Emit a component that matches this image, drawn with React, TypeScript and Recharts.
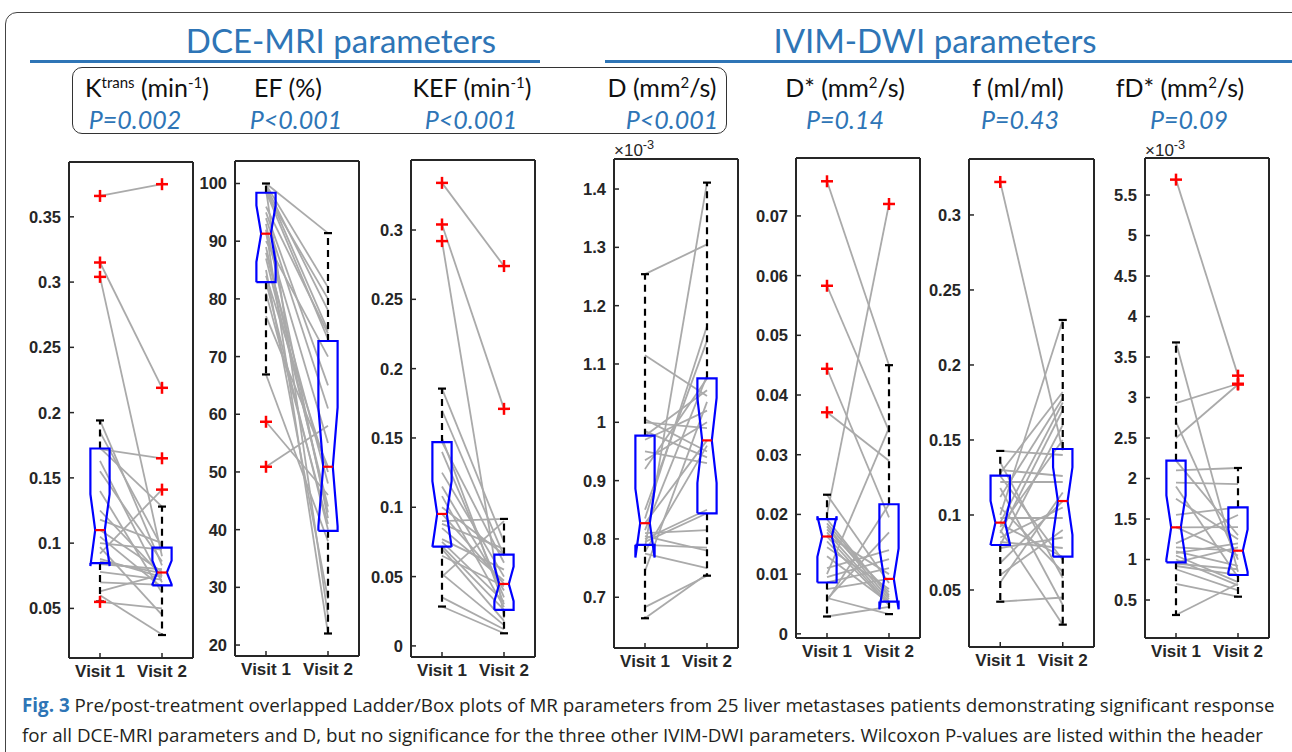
import React from 'react';
import { ComposedChart, Line, Scatter, XAxis, YAxis } from 'recharts';

// paired patient values: index i is the same patient at visit 1 and visit 2
const KTRANS_V1 = [0.366, 0.315, 0.304, 0.172, 0.092, 0.194, 0.185, 0.173, 0.163, 0.155, 0.14, 0.125, 0.118, 0.11, 0.105, 0.1, 0.097, 0.088, 0.086, 0.084, 0.078, 0.07, 0.063, 0.06, 0.055];
const KTRANS_V2 = [0.375, 0.219, 0.09, 0.165, 0.141, 0.083, 0.097, 0.128, 0.07, 0.086, 0.062, 0.075, 0.1, 0.078, 0.066, 0.095, 0.045, 0.074, 0.077, 0.08, 0.072, 0.068, 0.076, 0.03, 0.05];
const EF_V1 = [50.9, 58.7, 66.9, 100, 99.8, 99.5, 99.2, 99, 98.6, 98.4, 96, 95, 94, 93, 92, 91.3, 90, 89, 88, 87, 85, 84, 83, 81, 77];
const EF_V2 = [58, 46, 38, 91.4, 82, 78, 74.5, 25, 73, 80, 74, 65, 61, 42, 22, 55, 70, 43, 48, 44, 28, 50, 40, 41, 50.9];
const KEF_V1 = [0.334, 0.304, 0.292, 0.1856, 0.17, 0.15, 0.147, 0.14, 0.125, 0.115, 0.108, 0.1, 0.0952, 0.09, 0.088, 0.085, 0.077, 0.075, 0.072, 0.07, 0.065, 0.052, 0.05, 0.035, 0.0284];
const KEF_V2 = [0.274, 0.171, 0.02, 0.075, 0.065, 0.03, 0.06, 0.035, 0.05, 0.04, 0.028, 0.066, 0.0447, 0.0916, 0.07, 0.047, 0.055, 0.032, 0.026, 0.018, 0.043, 0.015, 0.09, 0.012, 0.0091];
// D and fD* are in units of 1e-3
const D_V1 = [1.254, 1.115, 1.005, 1.0, 0.985, 0.977, 0.97, 0.95, 0.935, 0.92, 0.85, 0.835, 0.827, 0.815, 0.81, 0.805, 0.8, 0.795, 0.79, 0.785, 0.778, 0.775, 0.745, 0.683, 0.664];
const D_V2 = [1.305, 1.045, 0.95, 0.99, 0.94, 1.055, 1.02, 0.93, 1.0, 1.075, 1.14, 1.165, 0.969, 1.08, 0.815, 0.78, 0.85, 0.844, 0.785, 1.411, 0.96, 0.75, 1.035, 0.737, 0.74];
const DSTAR_V1 = [0.0758, 0.0583, 0.0444, 0.0371, 0.02, 0.0233, 0.0192, 0.0185, 0.018, 0.0175, 0.017, 0.0165, 0.0163, 0.0155, 0.0145, 0.013, 0.011, 0.01, 0.0095, 0.0086, 0.0075, 0.006, 0.0058, 0.0055, 0.0029];
const DSTAR_V2 = [0.045, 0.034, 0.0195, 0.029, 0.072, 0.0085, 0.0062, 0.0065, 0.0058, 0.007, 0.0054, 0.01, 0.005, 0.0048, 0.0075, 0.0052, 0.014, 0.0345, 0.0125, 0.011, 0.0092, 0.0033, 0.017, 0.0217, 0.0045];
const F_V1 = [0.322, 0.1427, 0.135, 0.13, 0.128, 0.126, 0.122, 0.118, 0.112, 0.105, 0.1, 0.098, 0.0949, 0.094, 0.092, 0.09, 0.088, 0.085, 0.082, 0.08, 0.078, 0.068, 0.06, 0.055, 0.0422];
const F_V2 = [0.143, 0.14, 0.058, 0.126, 0.182, 0.07, 0.122, 0.04, 0.178, 0.062, 0.23, 0.098, 0.175, 0.072, 0.15, 0.0269, 0.17, 0.105, 0.078, 0.16, 0.085, 0.1093, 0.09, 0.115, 0.045];
const FDSTAR_V1 = [5.69, 3.68, 2.93, 2.7, 2.5, 2.22, 2.1, 1.95, 1.9, 1.75, 1.55, 1.4, 1.397, 1.2, 1.15, 1.1, 1.08, 1.05, 1.0, 0.965, 0.95, 0.92, 0.88, 0.7, 0.315];
const FDSTAR_V2 = [3.27, 0.85, 3.17, 1.0, 3.16, 1.3, 2.13, 1.93, 0.78, 1.25, 1.644, 1.05, 1.4, 1.55, 1.109, 0.92, 1.2, 0.72, 0.68, 1.15, 0.88, 0.809, 0.62, 0.541, 0.7];

// box stats per visit: [whisker low, q1, notch low, median, notch high, q3, whisker high]
const KTRANS_BOX = [[0.0553, 0.0847, 0.0824, 0.11, 0.1376, 0.1725, 0.194], [0.0296, 0.0676, 0.0684, 0.0775, 0.0866, 0.0965, 0.128]];
const EF_BOX = [[66.9, 82.9, 86.4, 91.3, 96.2, 98.4, 100], [22.0, 39.8, 40.6, 50.9, 61.2, 72.7, 91.4]];
const KEF_BOX = [[0.0284, 0.0716, 0.0715, 0.0952, 0.1189, 0.147, 0.1856], [0.0091, 0.026, 0.0322, 0.0447, 0.0572, 0.0659, 0.0916]];
const D_BOX = [[0.664, 0.79, 0.768, 0.827, 0.886, 0.977, 1.254], [0.737, 0.844, 0.896, 0.969, 1.042, 1.0754, 1.411]];
const DSTAR_BOX = [[0.0029, 0.0086, 0.0129, 0.0163, 0.0197, 0.0192, 0.0233], [0.0033, 0.0054, 0.0041, 0.0092, 0.0143, 0.0217, 0.045]];
const F_BOX = [[0.0422, 0.08, 0.0804, 0.0949, 0.1094, 0.1262, 0.1427], [0.0269, 0.0722, 0.0868, 0.1093, 0.1318, 0.144, 0.23]];
const FDSTAR_BOX = [[0.315, 0.965, 1.003, 1.397, 1.79, 2.22, 3.68], [0.541, 0.809, 0.847, 1.109, 1.371, 1.644, 2.13]];

const KTRANS_TICKS = [0.05, 0.1, 0.15, 0.2, 0.25, 0.3, 0.35];
const EF_TICKS = [20, 30, 40, 50, 60, 70, 80, 90, 100];
const KEF_TICKS = [0, 0.05, 0.1, 0.15, 0.2, 0.25, 0.3];
const D_TICKS = [0.7, 0.8, 0.9, 1, 1.1, 1.2, 1.3, 1.4];
const DSTAR_TICKS = [0, 0.01, 0.02, 0.03, 0.04, 0.05, 0.06, 0.07];
const F_TICKS = [0.05, 0.1, 0.15, 0.2, 0.25, 0.3];
const FDSTAR_TICKS = [0.5, 1, 1.5, 2, 2.5, 3, 3.5, 4, 4.5, 5, 5.5];

const VISITS = ['Visit 1', 'Visit 2'];

const BLUE_TXT = '#2e75b6';
const AXIS = '#262626';
const BOX_HALF = 0.155;
const CAP_HALF = 0.065;
const ARIAL = '"Liberation Sans", Arial, sans-serif';

// frame = plot box [left, top, right, bottom] on the page
const PANELS = [
  { v1: KTRANS_V1, v2: KTRANS_V2, box: KTRANS_BOX, ticks: KTRANS_TICKS, domain: [0.012, 0.392], frame: [69, 162, 193, 658] },
  { v1: EF_V1, v2: EF_V2, box: EF_BOX, ticks: EF_TICKS, domain: [18.1, 103.9], frame: [235, 161, 359, 656] },
  { v1: KEF_V1, v2: KEF_V2, box: KEF_BOX, ticks: KEF_TICKS, domain: [-0.008, 0.3505], frame: [411, 160, 535, 657] },
  { v1: D_V1, v2: D_V2, box: D_BOX, ticks: D_TICKS, domain: [0.613, 1.4515], frame: [614, 159, 738, 648] },
  { v1: DSTAR_V1, v2: DSTAR_V2, box: DSTAR_BOX, ticks: DSTAR_TICKS, domain: [-0.0007, 0.0797], frame: [796, 158, 920, 638] },
  { v1: F_V1, v2: F_V2, box: F_BOX, ticks: F_TICKS, domain: [0.012, 0.3373], frame: [969, 159, 1094, 647] },
  { v1: FDSTAR_V1, v2: FDSTAR_V2, box: FDSTAR_BOX, ticks: FDSTAR_TICKS, domain: [0.031, 5.957], frame: [1145, 158, 1269, 638] },
];

const WL = 60;
const MT = 10;
const MR = 6;
const HB = 34;

const YTick = (props: any) => (
  <text x={props.x} y={props.y} dy="0.36em" textAnchor="end" fill={AXIS} fontSize={16.5} fontWeight={700} fontFamily={ARIAL}>
    {String(props.payload.value)}
  </text>
);

const XTick = (props: any) => (
  <text x={props.x} y={props.y} dy="0.8em" textAnchor="middle" fill={AXIS} fontSize={17} fontWeight={700} fontFamily={ARIAL}>
    {VISITS[props.payload.value - 1]}
  </text>
);

const Plus = (p: any) => (
  <g>
    <line x1={p.cx - 6} y1={p.cy} x2={p.cx + 6} y2={p.cy} stroke="#ff0000" strokeWidth={2.5} />
    <line x1={p.cx} y1={p.cy - 6} x2={p.cx} y2={p.cy + 6} stroke="#ff0000" strokeWidth={2.5} />
  </g>
);

// notched outline like matlab boxplot
function boxOutline(x: number, s: number[]) {
  const [, q1, nLo, med, nHi, q3] = s;
  const w = BOX_HALF;
  const k = w * 0.5;
  return [
    { x: x - w, y: q1 }, { x: x - w, y: nLo }, { x: x - k, y: med }, { x: x - w, y: nHi }, { x: x - w, y: q3 },
    { x: x + w, y: q3 }, { x: x + w, y: nHi }, { x: x + k, y: med }, { x: x + w, y: nLo }, { x: x + w, y: q1 },
    { x: x - w, y: q1 },
  ];
}

function Panel({ p }: { p: any }) {
  const [l, t, r, b] = p.frame;
  const W = r - l + WL + 1 + MR;
  const H = b - t + 1 + MT + HB;

  const outliers: { x: number; y: number }[] = [];
  [p.v1, p.v2].forEach((vals: number[], vi: number) => {
    const s = p.box[vi];
    vals.forEach((v) => {
      if (v > s[6] + 1e-9 || v < s[0] - 1e-9) outliers.push({ x: vi + 1, y: v });
    });
  });

  return (
    <div style={{ position: 'absolute', left: l - WL, top: t - MT - 1 }}>
      <ComposedChart width={W} height={H} margin={{ top: MT, right: MR, bottom: 0, left: 0 }}>
        <XAxis
          type="number"
          dataKey="x"
          domain={[0.5, 2.5]}
          ticks={[1, 2]}
          allowDataOverflow
          height={HB}
          tickSize={-5}
          tickMargin={10}
          stroke={AXIS}
          axisLine={{ strokeWidth: 2 }}
          tickLine={{ strokeWidth: 1.5 }}
          tick={<XTick />}
        />
        <XAxis
          xAxisId="top"
          orientation="top"
          type="number"
          dataKey="x"
          domain={[0.5, 2.5]}
          ticks={[1, 2]}
          allowDataOverflow
          height={1}
          tickSize={-5}
          stroke={AXIS}
          axisLine={{ strokeWidth: 2 }}
          tickLine={{ strokeWidth: 1.5 }}
          tick={false}
        />
        <YAxis
          type="number"
          domain={p.domain}
          ticks={p.ticks}
          allowDataOverflow
          width={WL}
          tickSize={-5}
          tickMargin={13}
          stroke={AXIS}
          axisLine={{ strokeWidth: 2 }}
          tickLine={{ strokeWidth: 1.5 }}
          tick={<YTick />}
        />
        <YAxis
          yAxisId="right"
          orientation="right"
          type="number"
          domain={p.domain}
          ticks={p.ticks}
          allowDataOverflow
          width={1}
          tickSize={-5}
          stroke={AXIS}
          axisLine={{ strokeWidth: 2 }}
          tickLine={{ strokeWidth: 1.5 }}
          tick={false}
        />

        {/* ladder lines, one per patient */}
        {p.v1.map((a: number, i: number) => (
          <Line
            key={`pt-${i}`}
            data={[{ x: 1, y: a }, { x: 2, y: p.v2[i] }]}
            dataKey="y"
            stroke="#aaaaaa"
            strokeWidth={1.8}
            dot={false}
            isAnimationActive={false}
          />
        ))}

        {p.box.map((s: number[], vi: number) => {
          const x = vi + 1;
          return [
            <Line key={`wu-${vi}`} data={[{ x, y: s[5] }, { x, y: s[6] }]} dataKey="y" stroke="#000" strokeWidth={2.2} strokeDasharray="7 5" dot={false} isAnimationActive={false} />,
            <Line key={`wl-${vi}`} data={[{ x, y: s[1] }, { x, y: s[0] }]} dataKey="y" stroke="#000" strokeWidth={2.2} strokeDasharray="7 5" dot={false} isAnimationActive={false} />,
            <Line key={`cu-${vi}`} data={[{ x: x - CAP_HALF, y: s[6] }, { x: x + CAP_HALF, y: s[6] }]} dataKey="y" stroke="#000" strokeWidth={2.2} dot={false} isAnimationActive={false} />,
            <Line key={`cl-${vi}`} data={[{ x: x - CAP_HALF, y: s[0] }, { x: x + CAP_HALF, y: s[0] }]} dataKey="y" stroke="#000" strokeWidth={2.2} dot={false} isAnimationActive={false} />,
            <Line key={`bx-${vi}`} data={boxOutline(x, s)} dataKey="y" stroke="#0000ff" strokeWidth={2.2} dot={false} isAnimationActive={false} />,
            <Line key={`md-${vi}`} data={[{ x: x - BOX_HALF * 0.5, y: s[3] }, { x: x + BOX_HALF * 0.5, y: s[3] }]} dataKey="y" stroke="#ff0000" strokeWidth={2.2} dot={false} isAnimationActive={false} />,
          ];
        })}

        {outliers.length > 0 && (
          <Scatter data={outliers} dataKey="y" shape={(sp: any) => <Plus cx={sp.cx} cy={sp.cy} />} isAnimationActive={false} />
        )}
      </ComposedChart>
    </div>
  );
}

const sup = { fontSize: '0.6em' };
const HEADERS = [
  { x: 147, label: <>K<sup style={sup}>trans</sup> (min<sup style={sup}>-1</sup>)</> },
  { x: 288, label: <>EF (%)</> },
  { x: 472, label: <>KEF (min<sup style={sup}>-1</sup>)</> },
  { x: 662, label: <>D (mm<sup style={sup}>2</sup>/s)</> },
  { x: 845, label: <>D* (mm<sup style={sup}>2</sup>/s)</> },
  { x: 1018, label: <>f (ml/ml)</> },
  { x: 1180, label: <>fD* (mm<sup style={sup}>2</sup>/s)</> },
];
const P_VALUES = ['P=0.002', 'P<0.001', 'P<0.001', 'P<0.001', 'P=0.14', 'P=0.43', 'P=0.09'];
const P_X = [135, 296, 471, 672, 845, 1020, 1189];

const centered = (x: number, y: number): React.CSSProperties => ({
  position: 'absolute',
  left: x - 200,
  width: 400,
  top: y,
  textAlign: 'center',
  whiteSpace: 'nowrap',
  lineHeight: 1,
});

export default function App() {
  return (
    <div style={{ position: 'absolute', left: 0, top: 0, width: 1292, height: 752, background: '#fff', overflow: 'hidden' }}>
      <div style={{ position: 'absolute', left: 5, top: 12, width: 1310, height: 780, border: '1.5px solid #444', borderRadius: 12 }} />

      <div style={{ ...centered(341, 24), fontFamily: 'Lato, sans-serif', fontSize: 33, color: BLUE_TXT }}>DCE-MRI parameters</div>
      <div style={{ ...centered(935, 24), fontFamily: 'Lato, sans-serif', fontSize: 33, color: BLUE_TXT }}>IVIM-DWI parameters</div>
      <div style={{ position: 'absolute', left: 30, top: 60, width: 510, height: 3, background: BLUE_TXT }} />
      <div style={{ position: 'absolute', left: 605, top: 60, width: 700, height: 3, background: BLUE_TXT }} />
      <div style={{ position: 'absolute', left: 72, top: 67, width: 653, height: 65, border: '1.5px solid #333', borderRadius: 10 }} />

      {HEADERS.map((h, i) => (
        <div key={i} style={{ ...centered(h.x, 75), fontFamily: 'Lato, sans-serif', fontSize: 25, color: '#111' }}>{h.label}</div>
      ))}
      {P_VALUES.map((s, i) => (
        <div key={i} style={{ ...centered(P_X[i], 107), fontFamily: 'Lato, sans-serif', fontSize: 25, fontStyle: 'italic', color: BLUE_TXT }}>{s}</div>
      ))}

      {PANELS.map((p, i) => (
        <Panel key={i} p={p} />
      ))}

      {[614, 1145].map((x) => (
        <div key={x} style={{ position: 'absolute', left: x, top: 139, fontFamily: ARIAL, fontSize: 17, color: AXIS, whiteSpace: 'nowrap', lineHeight: 1 }}>
          ×10<sup style={{ fontSize: '0.75em' }}>-3</sup>
        </div>
      ))}

      <div style={{ position: 'absolute', left: 22, top: 690, fontFamily: '"Open Sans", sans-serif', fontSize: 18.8, lineHeight: '30px', color: '#231f20', whiteSpace: 'nowrap' }}>
        <span style={{ fontWeight: 700, color: BLUE_TXT }}>Fig. 3</span> Pre/post-treatment overlapped Ladder/Box plots of MR parameters from 25 liver metastases patients demonstrating significant response
        <br />
        for all DCE-MRI parameters and D, but no significance for the three other IVIM-DWI parameters. Wilcoxon P-values are listed within the header
      </div>
    </div>
  );
}
